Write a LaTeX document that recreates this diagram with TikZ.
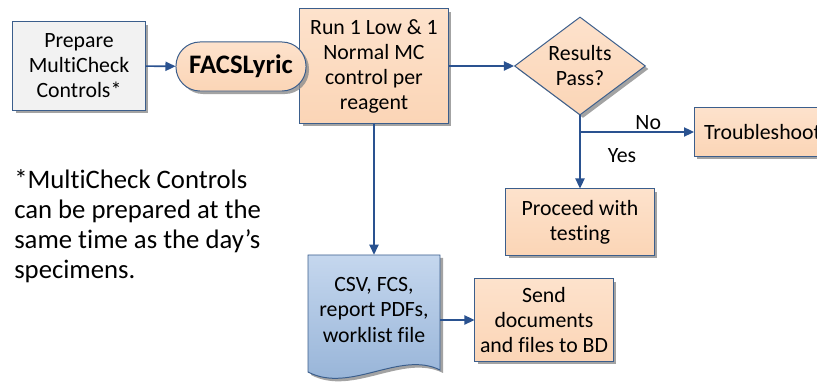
\documentclass[tikz,border=0pt]{standalone}
\usepackage{fontspec}
\setmainfont{Carlito}[Ligatures=NoCommon]
\usetikzlibrary{arrows.meta,shapes.geometric,shadows}
\definecolor{rimblue}{HTML}{3B5E8C}
\definecolor{flowblue}{HTML}{2A5290}
\definecolor{peach}{HTML}{FBD5B6}
\definecolor{peachtop}{HTML}{FDE2CC}
\definecolor{paper}{HTML}{F2F2F2}
\definecolor{doctop}{HTML}{C5D7EE}
\definecolor{docbot}{HTML}{93B1D6}
\tikzset{boxfont/.style={font=\fontsize{15.5}{17.8}\selectfont},
  shade/.style={drop shadow={shadow xshift=0.075cm, shadow yshift=-0.075cm,
    fill=black!45, opacity=0.8}},
  stepbox/.style={rectangle, draw=rimblue, line width=0.7pt, shade,
    top color=peachtop, bottom color=peach, align=center, inner sep=2pt, boxfont},
  flow/.style={draw=flowblue, line width=1.1pt,
    -{Triangle[length=2.5mm, width=2.3mm]}},
  lbl/.style={inner sep=1pt, boxfont}}

\begin{document}
\begin{tikzpicture}[x=0.025cm, y=-0.025cm]
  \useasboundingbox (0,0) rectangle (817,385);
  \node[stepbox, fill=paper, top color=paper, bottom color=paper,
    minimum width=3.3cm, minimum height=2.2cm] (prep) at (79,66)
    {Prepare\\MultiCheck\\Controls*};
  \node[stepbox, minimum width=3.7cm, minimum height=2.85cm] (run) at (374,66)
    {Run 1 Low \& 1\\Normal MC\\control per\\reagent};
  \node[stepbox, rounded corners=0.6cm, minimum width=3.25cm,
    minimum height=1.225cm, font=\fontsize{19}{22}\selectfont\bfseries]
    (facs) at (241,66.5) {FACSLyric};
  \node[diamond, draw=rimblue, line width=0.7pt, shade, top color=peachtop,
    bottom color=peach, minimum width=3.275cm, minimum height=2.45cm,
    inner sep=0pt] (pass) at (580,66) {};
  \node[align=center, boxfont] (passtxt) at (580,66) {Results\\Pass?};
  \node[stepbox, anchor=west, minimum width=3.4cm, minimum height=1.2cm]
    (trouble) at (694,132) {Troubleshoot};
  \node[stepbox, minimum width=3.7cm, minimum height=1.65cm] (proceed)
    at (580,222) {Proceed with\\testing};
  % document shape
  \draw[rimblue, line width=0.7pt, shade, top color=doctop, bottom color=docbot]
    (308,255) -- (440,255) -- (440,370)
    .. controls (400,350) and (350,394) .. (308,372) -- cycle;
  \node[align=center, boxfont, minimum width=3.3cm, minimum height=2.75cm]
    (doc) at (374,310) {CSV, FCS,\\report PDFs,\\worklist file};
  \node[stepbox, minimum width=3.45cm, minimum height=2.05cm] (send)
    at (544,320) {Send\\documents\\and files to BD};
  % note
  \node[anchor=north west, align=left, inner sep=0pt,
    font=\fontsize{19}{21.3}\selectfont] (note) at (14,169)
    {*MultiCheck Controls\\can be prepared at the\\same time as the day’s\\specimens.};
  % connectors
  \coordinate (split) at (580,132);
  \draw[flow] (prep) -- (facs);
  \draw[flow] (run) -- (pass);
  \draw[flow] (pass.south) -- (proceed.north);
  \draw[flow] (split) -- node[lbl, above, xshift=8pt] {No} (trouble.west);
  \node[lbl] (yes) at (622,156) {Yes};
  \draw[flow] (run.south) -- (doc.north);
  \draw[flow] (doc.east |- send.west) -- (send.west);
\end{tikzpicture}
\end{document}
